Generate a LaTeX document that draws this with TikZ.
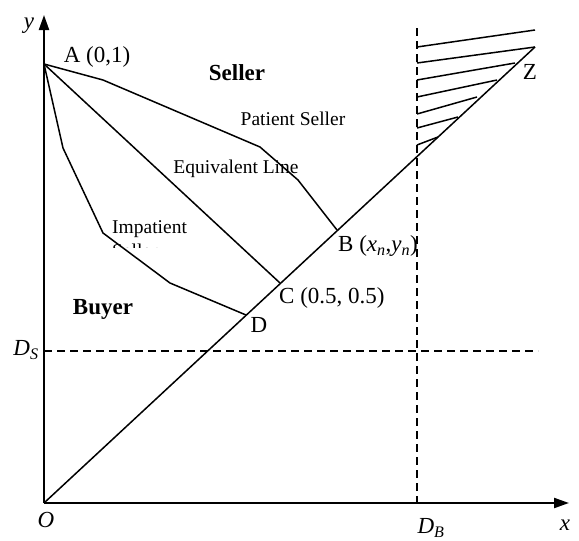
\documentclass[tikz,border=0pt]{standalone}
\usepackage{fontspec}
\setmainfont{Liberation Serif}
\usetikzlibrary{arrows.meta}
\tikzset{
  axis/.style={line width=2.2pt,-{Triangle[length=15pt,width=10pt]}},
  curve/.style={line width=1.5pt,line join=miter},
  dashline/.style={line width=1.4pt,dash pattern=on 8pt off 5pt},
  hatch/.style={line width=1.5pt},
  big/.style={font=\fontsize{23}{26}\selectfont,inner sep=0pt},
  small/.style={font=\fontsize{19.5}{22}\selectfont,inner sep=0pt},
}
\begin{document}
\begin{tikzpicture}[x=1pt,y=-1pt]
\useasboundingbox (0,0) rectangle (579,541);
% key points
\coordinate (O) at (44,503);
\coordinate (A) at (44,64);
\coordinate (Z) at (535,47);
\coordinate (B) at (337,230);
\coordinate (C) at (280,283);
\coordinate (D) at (246,315);
\coordinate (Yend) at (44,15);
\coordinate (Xend) at (569,503);
\coordinate (DBtop) at (417,28);
\coordinate (DBbot) at (417,503);
\coordinate (DSl) at (44,351);
\coordinate (DSr) at (538,351);
% dashed lines
\draw[dashline] (DSl) -- (DSr);
\draw[dashline] (DBtop) -- (DBbot);
% diagonal
\draw[curve] (O) -- (Z);
% equivalent line
\draw[curve] (A) -- (C);
% patient seller curve
\draw[curve] (A) -- (103,80) -- (260,147) -- (298,180) -- (B);
% impatient curve
\draw[curve] (A) -- (63,148) -- (103,233) -- (170,283) -- (D);
% hatch lines
\foreach \yl/\xr/\yr [count=\i] in {47/535/30, 63/535/47, 80/515/63, 97/497/80, 114/477/97, 128/458/117, 145/438/137}{
  \coordinate (hl\i) at (417,\yl);
  \coordinate (hr\i) at (\xr,\yr);
  \draw[hatch] (hl\i) -- (hr\i);
}
% axes
\draw[axis] (O) -- (Yend);
\draw[axis] (O) -- (Xend);
% labels
\node[big] (ylab) at (29,26) {\itshape y};
\node[big] (xlab) at (565,525) {\itshape x};
\node[big] (Olab) at (46,520) {\itshape O};
\node[big] (DBlab) at (431,528) {\itshape D\textsubscript{B}};
\node[big] (DSlab) at (26,350) {\itshape D\textsubscript{S}};
\node[big] (Alab) at (97,57) {A (0,1)};
\node[big,font=\fontsize{23}{26}\selectfont\bfseries] (seller) at (237,73) {Seller};
\node[big,font=\fontsize{23}{26}\selectfont\bfseries] (buyer) at (103,309) {Buyer};
\node[small] (patient) at (293,119) {Patient Seller};
\node[small] (equiv) at (236,169) {Equivalent Line};
\node[small,anchor=base west] (impat) at (112,233) {Impatient};
\begin{scope}
  \clip (100,239) rectangle (200,247.5);
  \node[small,anchor=base west] (impat2) at (112,257) {Seller};
\end{scope}
\node[big,anchor=west] (Blab) at (338,246) {B (\textit{x\textsubscript{n}},\textit{y\textsubscript{n}})};
\node[big,anchor=west] (Clab) at (279,298) {C (0.5, 0.5)};
\node[big] (Dlab) at (259,325) {D};
\node[big] (Zlab) at (530,72) {Z};
\end{tikzpicture}
\end{document}
